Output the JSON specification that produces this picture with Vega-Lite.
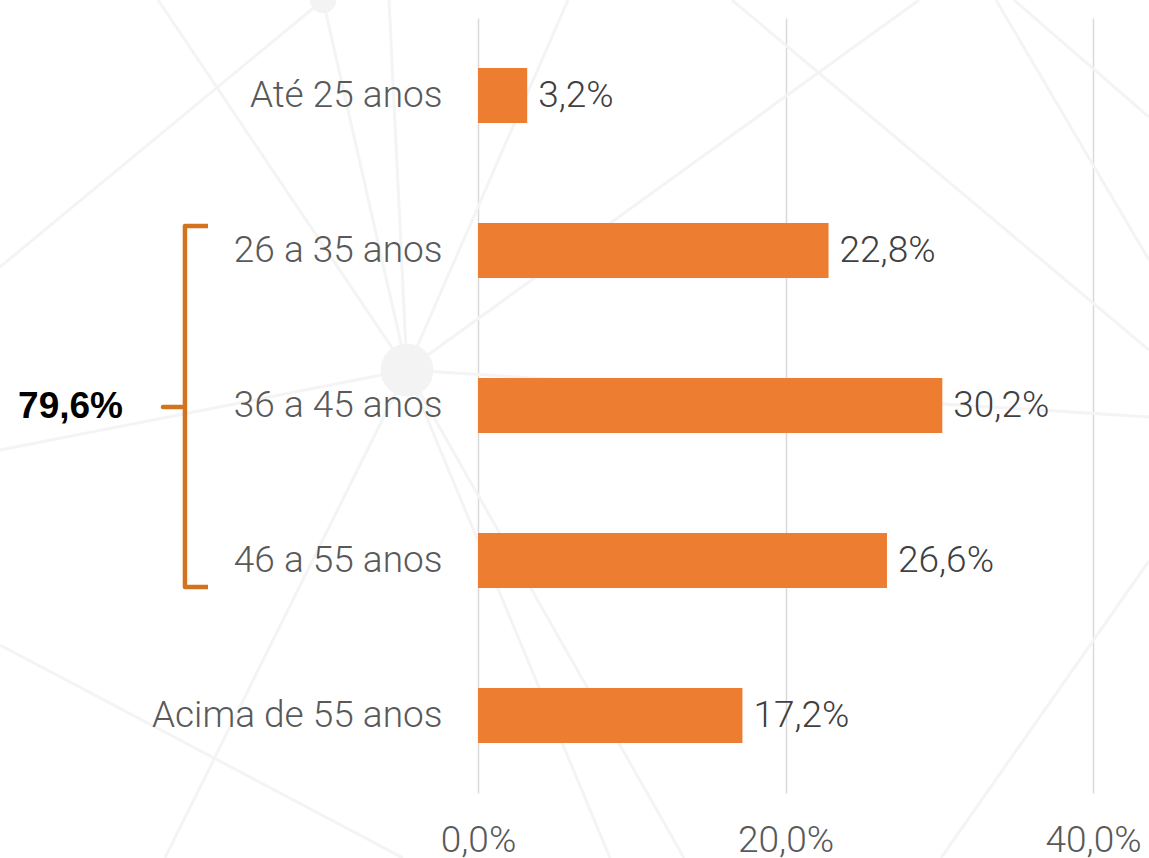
{
  "$schema": "https://vega.github.io/schema/vega-lite/v6.json",
  "width": 615,
  "height": 775,
  "autosize": {"type": "none"},
  "padding": {"left": 478, "top": 18, "right": 56, "bottom": 65},
  "background": "white",
  "config": {"view": {"stroke": null}, "font": "Roboto"},
  "datasets": {
    "faixas": [
      {"faixa": "Até 25 anos", "pct": 3.2},
      {"faixa": "26 a 35 anos", "pct": 22.8},
      {"faixa": "36 a 45 anos", "pct": 30.2},
      {"faixa": "46 a 55 anos", "pct": 26.6},
      {"faixa": "Acima de 55 anos", "pct": 17.2}
    ],
    "chave": [
      {"ordem": 1, "x": -17.56, "pos": 0.842},
      {"ordem": 2, "x": -19.06, "pos": 0.842},
      {"ordem": 3, "x": -19.06, "pos": 2.01},
      {"ordem": 4, "x": -20.49, "pos": 2.01},
      {"ordem": 5, "x": -19.06, "pos": 2.01},
      {"ordem": 6, "x": -19.06, "pos": 3.171},
      {"ordem": 7, "x": -17.56, "pos": 3.171}
    ],
    "grupo": [
      {"rotulo": "79,6%", "x": -26.5, "pos": 2.01}
    ],
    "rede": [
      {"x": -20.81, "y": -0.616, "x2": -4.618, "y2": 1.771},
      {"x": -10.081, "y": -0.616, "x2": -31.089, "y2": 1.106},
      {"x": -10.081, "y": -0.616, "x2": -4.618, "y2": 1.771},
      {"x": -5.789, "y": -0.616, "x2": -4.618, "y2": 1.771},
      {"x": 5.854, "y": -0.616, "x2": -4.618, "y2": 1.771},
      {"x": 28.683, "y": -0.616, "x2": -4.618, "y2": 1.771},
      {"x": -31.089, "y": 2.287, "x2": -4.618, "y2": 1.771},
      {"x": -4.618, "y": 1.771, "x2": 43.642, "y2": 2.074},
      {"x": 16.52, "y": -0.616, "x2": 43.642, "y2": 1.642},
      {"x": 33.691, "y": -0.616, "x2": 43.642, "y2": 1.061},
      {"x": 34.862, "y": -0.616, "x2": 43.642, "y2": 0.139},
      {"x": -31.089, "y": 3.545, "x2": -4.878, "y2": 4.919},
      {"x": -4.618, "y": 1.771, "x2": -20.358, "y2": 4.919},
      {"x": -4.618, "y": 1.771, "x2": 13.398, "y2": 4.919},
      {"x": -4.618, "y": 1.771, "x2": 8.585, "y2": 4.919},
      {"x": 30.114, "y": 4.919, "x2": 43.642, "y2": 3.003}
    ],
    "nos": [
      {"x": -4.618, "y": 1.771, "tipo": "grande"},
      {"x": -10.081, "y": -0.616, "tipo": "pequeno"}
    ]
  },
  "layer": [
    {
      "layer": [
        {
          "data": {"name": "rede"},
          "mark": {"type": "rule", "color": "#F4F4F4", "strokeWidth": 3},
          "encoding": {
            "x": {"field": "x", "type": "quantitative", "scale": {"domain": [0, 40], "nice": false, "zero": true}},
            "x2": {"field": "x2"},
            "y": {"field": "y", "type": "quantitative", "scale": {"domain": [-0.5, 4.5], "reverse": true, "nice": false, "zero": false}, "axis": null},
            "y2": {"field": "y2"}
          }
        },
        {
          "data": {"name": "nos"},
          "mark": {"type": "point", "shape": "circle", "filled": true, "color": "#F3F3F3", "opacity": 1},
          "encoding": {
            "x": {"field": "x", "type": "quantitative", "scale": {"domain": [0, 40], "nice": false, "zero": true}},
            "y": {"field": "y", "type": "quantitative", "scale": {"domain": [-0.5, 4.5], "reverse": true, "nice": false, "zero": false}, "axis": null},
            "size": {"field": "tipo", "type": "nominal", "scale": {"domain": ["grande", "pequeno"], "range": [2800, 700]}, "legend": null}
          }
        },
        {
          "data": {"name": "chave"},
          "mark": {"type": "line", "color": "#D4731E", "strokeWidth": 4.5, "strokeJoin": "round", "strokeCap": "butt"},
          "encoding": {
            "x": {"field": "x", "type": "quantitative", "scale": {"domain": [0, 40], "nice": false, "zero": true}},
            "y": {"field": "pos", "type": "quantitative", "scale": {"domain": [-0.5, 4.5], "reverse": true, "nice": false, "zero": false}, "axis": null},
            "order": {"field": "ordem"}
          }
        },
        {
          "data": {"name": "grupo"},
          "mark": {"type": "text", "align": "center", "baseline": "middle", "font": "Liberation Sans", "fontWeight": "bold", "fontSize": 37, "color": "#000000"},
          "encoding": {
            "x": {"field": "x", "type": "quantitative", "scale": {"domain": [0, 40], "nice": false, "zero": true}},
            "y": {"field": "pos", "type": "quantitative", "scale": {"domain": [-0.5, 4.5], "reverse": true, "nice": false, "zero": false}, "axis": null},
            "text": {"field": "rotulo"}
          }
        }
      ]
    },
    {
      "data": {"name": "faixas"},
      "encoding": {
        "y": {
          "field": "faixa", "type": "nominal", "sort": null,
          "scale": {"paddingInner": 0.645, "paddingOuter": 0.3225},
          "axis": {
            "orient": "left", "zindex": 1,
            "title": null, "ticks": false, "domain": false, "grid": false,
            "labelFont": "Roboto", "labelFontWeight": 300, "labelFontSize": 37,
            "labelColor": "#595959", "labelPadding": 36, "labelLimit": 400
          }
        },
        "x": {
          "field": "pct", "type": "quantitative",
          "scale": {"domain": [0, 40], "nice": false, "zero": true},
          "axis": {
            "title": null, "values": [0, 20, 40], "ticks": false, "domain": false,
            "grid": true, "gridColor": "#D9D9D9", "gridWidth": 1.5,
            "labelFont": "Roboto", "labelFontWeight": 300, "labelFontSize": 37,
            "labelColor": "#595959", "labelPadding": 29, "labelFlush": false,
            "labelExpr": "replace(format(datum.value, '.1f'), '.', ',') + '%'"
          }
        }
      },
      "layer": [
        {"mark": {"type": "bar", "color": "#ED7D31"}},
        {
          "mark": {
            "type": "text", "align": "left", "baseline": "middle", "dx": 11,
            "font": "Roboto", "fontWeight": 300, "fontSize": 37, "color": "#404040",
            "text": {"expr": "replace(format(datum.pct, '.1f'), '.', ',') + '%'"}
          }
        }
      ]
    }
  ],
  "resolve": {"scale": {"y": "independent"}, "axis": {"y": "independent"}}
}
